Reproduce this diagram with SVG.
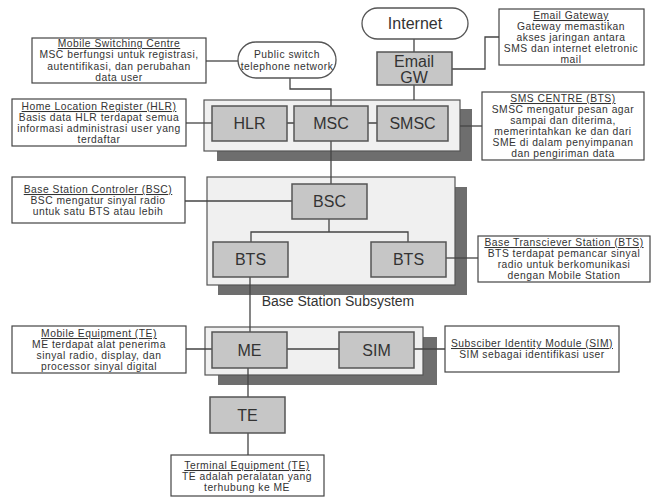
<svg xmlns="http://www.w3.org/2000/svg" width="652" height="497" viewBox="0 0 652 497">
<style>
text{font-family:"Liberation Sans",Arial,sans-serif;fill:#333}
.bg{fill:#fff}
.shadow{fill:#6e6e6e}
.panel{fill:#f0f0f0;stroke:#555;stroke-width:1.2}
.box{fill:#c6c6c6;stroke:#555;stroke-width:1.5}
.oval{fill:#fff;stroke:#555;stroke-width:1.3}
.note{fill:#fff;stroke:#444;stroke-width:1.2}
.lbl{font-size:16px;text-anchor:middle}
.nt{font-size:10.3px;text-anchor:middle;letter-spacing:0.5px}
.ttl{text-decoration:underline}
.conn{fill:none;stroke:#444;stroke-width:1.3}
</style>
<rect class="bg" x="0" y="0" width="652" height="497"/>

<g id="panels">
<rect class="shadow" x="217" y="109" width="255" height="52"/>
<rect class="panel" x="204" y="100" width="256" height="51"/>
<rect class="shadow" x="218" y="187" width="249" height="108"/>
<rect class="panel" x="207" y="177" width="248" height="108"/>
<rect class="shadow" x="218" y="337" width="219" height="48"/>
<rect class="panel" x="205" y="327" width="218" height="48"/>
<text x="338" y="306" font-size="14" text-anchor="middle">Base Station Subsystem</text>
</g>

<g id="connectors">
<path class="conn" d="M206 61H238"/>
<path class="conn" d="M290 78V89H331V106"/>
<path class="conn" d="M186 123H212"/>
<path class="conn" d="M287 123H294M368 123H377"/>
<path class="conn" d="M414 39V52M414 85V100"/>
<path class="conn" d="M452 69H485V37H499"/>
<path class="conn" d="M460 126H482"/>
<path class="conn" d="M331 141V184"/>
<path class="conn" d="M185 201H292"/>
<path class="conn" d="M329 219V232M251 242V232H408V242"/>
<path class="conn" d="M446 258H478"/>
<path class="conn" d="M250 277V332"/>
<path class="conn" d="M186 349H212M287 349H339M414 349H445"/>
<path class="conn" d="M248 368V397M248 433V455"/>
</g>

<g id="internet">
<rect class="oval" x="362" y="8" width="106" height="31" rx="15.5"/>
<text class="lbl" x="415" y="29" font-size="17">Internet</text>
</g>
<g id="pstn">
<rect class="oval" x="238" y="42" width="98" height="36" rx="18"/>
<text class="nt" x="287" y="58" letter-spacing="0">Public switch</text>
<text class="nt" x="287" y="70" letter-spacing="0">telephone network</text>
</g>
<g id="emailgw">
<rect class="box" x="377" y="52" width="75" height="33"/>
<text class="lbl" x="414" y="66.5">Email</text>
<text class="lbl" x="414" y="82.5">GW</text>
</g>
<g id="hlr">
<rect class="box" x="212" y="106" width="75" height="35"/>
<text class="lbl" x="249.5" y="129">HLR</text>
</g>
<g id="msc">
<rect class="box" x="294" y="106" width="74" height="35"/>
<text class="lbl" x="331" y="129">MSC</text>
</g>
<g id="smsc">
<rect class="box" x="377" y="106" width="71" height="35"/>
<text class="lbl" x="412.5" y="129">SMSC</text>
</g>
<g id="bsc">
<rect class="box" x="292" y="184" width="75" height="35"/>
<text class="lbl" x="329.5" y="207">BSC</text>
</g>
<g id="bts-left">
<rect class="box" x="213" y="242" width="75" height="35"/>
<text class="lbl" x="250.5" y="265">BTS</text>
</g>
<g id="bts-right">
<rect class="box" x="371" y="242" width="75" height="35"/>
<text class="lbl" x="408.5" y="265">BTS</text>
</g>
<g id="me">
<rect class="box" x="212" y="332" width="75" height="36"/>
<text class="lbl" x="249.5" y="356">ME</text>
</g>
<g id="sim">
<rect class="box" x="339" y="332" width="75" height="36"/>
<text class="lbl" x="376.5" y="356">SIM</text>
</g>
<g id="te">
<rect class="box" x="210" y="397" width="75" height="36"/>
<text class="lbl" x="247.5" y="421">TE</text>
</g>

<g id="note-msc">
<rect class="note" x="32" y="38" width="174" height="45"/>
<text class="nt ttl" x="119" y="47">Mobile Switching Centre</text>
<text class="nt" x="119" y="58">MSC berfungsi untuk registrasi,</text>
<text class="nt" x="119" y="69.5">autentifikasi, dan perubahan</text>
<text class="nt" x="119" y="81">data user</text>
</g>
<g id="note-hlr">
<rect class="note" x="12" y="99" width="174" height="47"/>
<text class="nt ttl" x="99" y="110">Home Location Register (HLR)</text>
<text class="nt" x="99" y="121">Basis data HLR terdapat semua</text>
<text class="nt" x="99" y="132">informasi administrasi user yang</text>
<text class="nt" x="99" y="143">terdaftar</text>
</g>
<g id="note-email">
<rect class="note" x="499" y="9" width="145" height="56"/>
<text class="nt ttl" x="571" y="19">Email Gateway</text>
<text class="nt" x="571" y="30">Gateway memastikan</text>
<text class="nt" x="571" y="41">akses jaringan antara</text>
<text class="nt" x="571" y="52">SMS dan internet eletronic</text>
<text class="nt" x="571" y="63">mail</text>
</g>
<g id="note-smsc">
<rect class="note" x="482" y="92" width="162" height="68"/>
<text class="nt ttl" x="563" y="102">SMS CENTRE (BTS)</text>
<text class="nt" x="563" y="113">SMSC mengatur pesan agar</text>
<text class="nt" x="563" y="124">sampai dan diterima,</text>
<text class="nt" x="563" y="135">memerintahkan ke dan dari</text>
<text class="nt" x="563" y="146">SME di dalam penyimpanan</text>
<text class="nt" x="563" y="157">dan pengiriman data</text>
</g>
<g id="note-bsc">
<rect class="note" x="12" y="177" width="173" height="46"/>
<text class="nt ttl" x="98" y="193">Base Station Controler (BSC)</text>
<text class="nt" x="98" y="204">BSC mengatur sinyal radio</text>
<text class="nt" x="98" y="215">untuk satu BTS atau lebih</text>
</g>
<g id="note-bts">
<rect class="note" x="478" y="236" width="172" height="46"/>
<text class="nt ttl" x="564" y="246">Base Transciever Station (BTS)</text>
<text class="nt" x="564" y="257">BTS terdapat pemancar sinyal</text>
<text class="nt" x="564" y="268">radio untuk berkomunikasi</text>
<text class="nt" x="564" y="279">dengan Mobile Station</text>
</g>
<g id="note-me">
<rect class="note" x="12" y="326" width="174" height="47"/>
<text class="nt ttl" x="99" y="337">Mobile Equipment (TE)</text>
<text class="nt" x="99" y="348">ME terdapat alat penerima</text>
<text class="nt" x="99" y="359">sinyal radio, display, dan</text>
<text class="nt" x="99" y="370">processor sinyal digital</text>
</g>
<g id="note-sim">
<rect class="note" x="445" y="326" width="174" height="46"/>
<text class="nt ttl" x="532" y="347">Subsciber Identity Module (SIM)</text>
<text class="nt" x="532" y="358">SIM sebagai identifikasi user</text>
</g>
<g id="note-te">
<rect class="note" x="171" y="455" width="153" height="41"/>
<text class="nt ttl" x="247" y="469">Terminal Equipment (TE)</text>
<text class="nt" x="247" y="480">TE adalah peralatan yang</text>
<text class="nt" x="247" y="491">terhubung ke ME</text>
</g>
</svg>
